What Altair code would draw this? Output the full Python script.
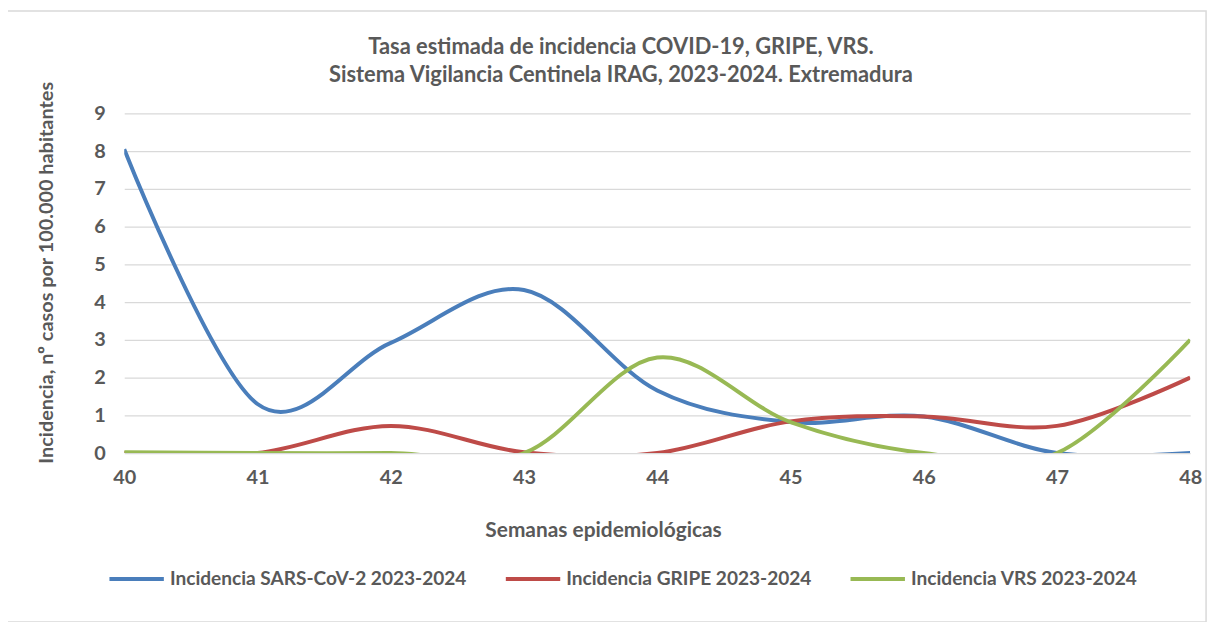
import altair as alt
import pandas as pd

semanas = [40, 41, 42, 43, 44, 45, 46, 47, 48]
sars = [8.05, 1.3, 2.92, 4.32, 1.66, 0.82, 0.97, 0.0, 0.0]
gripe = [0.0, 0.0, 0.72, 0.02, 0.0, 0.84, 0.97, 0.72, 2.0]
vrs = [0.02, 0.0, 0.0, 0.0, 2.53, 0.82, 0.0, 0.0, 3.0]
series = ["Incidencia SARS-CoV-2 2023-2024", "Incidencia GRIPE 2023-2024", "Incidencia VRS 2023-2024"]
colors = ["#4A7EBB", "#BE4B48", "#98B954"]
title_lines = ["Tasa estimada de incidencia COVID-19, GRIPE, VRS.",
               "Sistema Vigilancia Centinela IRAG, 2023-2024. Extremadura"]

rows = []
for name, vals in zip(series, [sars, gripe, vrs]):
    for s, v in zip(semanas, vals):
        rows.append({"semana": s, "valor": v, "serie": name})
df = pd.DataFrame(rows)

FONT = "Lato"
GREY = "#595959"

W, H = 1073, 342

lines = alt.Chart(df).mark_line(strokeWidth=4, interpolate="cardinal", clip=True).encode(
    x=alt.X("semana:Q", scale=alt.Scale(domain=[40, 48], nice=False, zero=False),
            axis=alt.Axis(values=semanas, format="d", title="Semanas epidemiológicas",
                          grid=False, domain=False, ticks=False, labelPadding=15,
                          labelFlush=False,
                          titleX=482, titleY=67, titleAnchor="middle")),
    y=alt.Y("valor:Q", scale=alt.Scale(domain=[0, 9], nice=False),
            axis=alt.Axis(values=list(range(10)), title="Incidencia, nº casos por 100.000 habitantes",
                          grid=True, gridColor="#D9D9D9", gridWidth=1.3, domain=False, ticks=False,
                          labelPadding=19, labelFlush=False,
                          titleX=-78, titleY=160, titleBaseline="middle",
                          titleFontSize=20)),
    color=alt.Color("serie:N", sort=series,
                    scale=alt.Scale(domain=series, range=colors),
                    legend=alt.Legend(title=None, orient="none", legendX=-17, legendY=439,
                                      direction="horizontal", symbolType="stroke",
                                      symbolSize=3000, symbolStrokeWidth=4,
                                      columnPadding=31, labelOffset=4,
                                      labelFontSize=19.2, labelColor=GREY, labelFont=FONT,
                                      labelFontWeight="bold", labelLimit=450)),
    order=alt.Order("serie:N"),
)

border = alt.Chart(pd.DataFrame({"a": [0]})).mark_rect(
    fill=None, stroke="#D9D9D9", strokeWidth=1.5, clip=False
).encode(
    x=alt.value(-119), x2=alt.value(1089), y=alt.value(-103), y2=alt.value(512)
)

tdf = pd.DataFrame({"t": title_lines, "i": [0, 1]})
title = alt.Chart(tdf).mark_text(
    font=FONT, fontSize=22, fontWeight="bold", color=GREY, align="center", baseline="middle"
).encode(
    x=alt.value(500),
    y=alt.Y("i:Q", scale=alt.Scale(domain=[0, 1], range=[-67, -39]), axis=None),
    text="t:N",
)

chart = alt.layer(border, lines, title).resolve_scale(y="independent").properties(
    width=W, height=H,
    autosize=alt.AutoSizeParams(type="none"),
    padding={"left": 117, "top": 104, "right": 26, "bottom": 168},
).configure_view(stroke=None).configure_axis(
    labelFont=FONT, labelFontSize=20, labelColor=GREY, labelFontWeight="bold",
    titleFont=FONT, titleFontSize=21, titleColor=GREY, titleFontWeight="bold",
)

chart.save("out.html", embed_options={"renderer": "svg", "actions": False})
